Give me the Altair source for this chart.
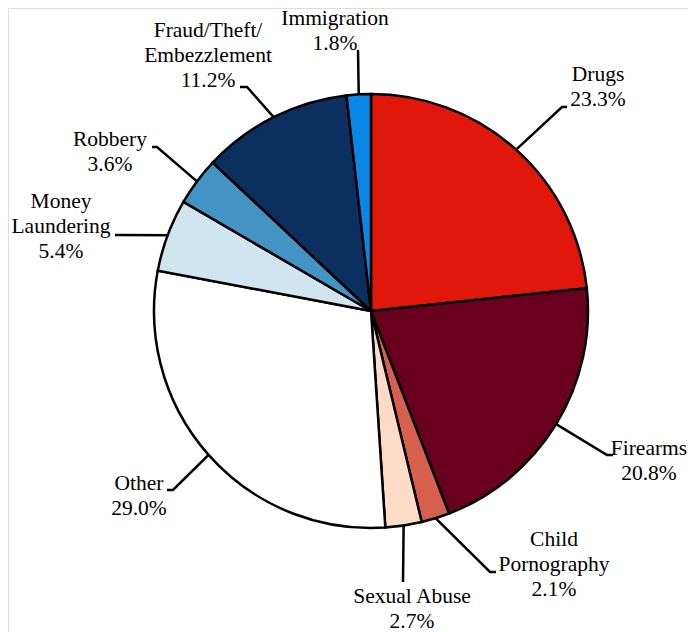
import math
import altair as alt
import pandas as pd

# ---- data ----
categories = ["Drugs", "Firearms", "Child Pornography", "Sexual Abuse", "Other",
              "Money Laundering", "Robbery", "Fraud/Theft/Embezzlement", "Immigration"]
values = [23.3, 20.8, 2.1, 2.7, 29.0, 5.4, 3.6, 11.2, 1.8]
label_lines = [["Drugs", "23.3%"], ["Firearms", "20.8%"], ["Child", "Pornography", "2.1%"],
               ["Sexual Abuse", "2.7%"], ["Other", "29.0%"], ["Money", "Laundering", "5.4%"],
               ["Robbery", "3.6%"], ["Fraud/Theft/", "Embezzlement", "11.2%"], ["Immigration", "1.8%"]]
colors = ["#E2170B", "#6A001F", "#D6604D", "#FDDBC7", "#FFFFFF",
          "#D1E5F0", "#4393C3", "#0B3060", "#0A86E6"]

# ---- layout (chart pixel coords; page minus 8px margin) ----
W, H = 680, 624
CX, CY, R = 363, 303, 217
FONT = "Liberation Serif"
# label centre x, first baseline y
label_pos = [(590, 73), (641, 447), (546, 538), (404, 595), (131, 482),
             (53, 200), (102, 138), (200, 29), (327, 17)]
# leader elbow and end points
elbows = [(554, 99), (599, 447), (482, 564), (395, 574), (165, 482),
          (112, 227), (149, 139), (239, 79), (350, 42)]
ends = [(559, 99), (605, 447), (488, 564), (395, 574), (159, 482),
        (107, 227), (144, 139), (232, 79), (350, 42)]

total = sum(values)
pie_df = pd.DataFrame({"category": categories, "value": values,
                       "idx": list(range(len(values)))})

line_rows = []
cum = 0.0
for i, v in enumerate(values):
    mid = (cum + v / 2) / total * 2 * math.pi
    cum += v
    sx = CX + R * math.sin(mid)
    sy = CY - R * math.cos(mid)
    for k, (px, py) in enumerate([(sx, sy), elbows[i], ends[i]]):
        line_rows.append({"category": categories[i], "k": k, "px": px, "py": py})
line_df = pd.DataFrame(line_rows)

text_df = pd.DataFrame({"category": categories,
                        "label": ["\n".join(l) for l in label_lines],
                        "px": [p[0] for p in label_pos],
                        "py": [p[1] for p in label_pos]})

pie = alt.Chart(pie_df).mark_arc(outerRadius=R, stroke="black", strokeWidth=2.5).encode(
    theta=alt.Theta("value:Q", stack=True),
    order=alt.Order("idx:Q"),
    color=alt.Color("category:N", scale=alt.Scale(domain=categories, range=colors), legend=None),
    x=alt.value(CX), y=alt.value(CY),
)

xs = alt.Scale(domain=[0, W], range=[0, W])
ys = alt.Scale(domain=[0, H], range=[0, H])

lines = alt.Chart(line_df).mark_line(color="black", strokeWidth=2.5, strokeCap="butt").encode(
    x=alt.X("px:Q", scale=xs, axis=None),
    y=alt.Y("py:Q", scale=ys, axis=None),
    detail="category:N",
    order="k:Q",
)

texts = alt.Chart(text_df).mark_text(font=FONT, fontSize=21.5, lineHeight=25,
                                     lineBreak="\n", align="center", baseline="alphabetic",
                                     color="#000000").encode(
    x=alt.X("px:Q", scale=xs, axis=None),
    y=alt.Y("py:Q", scale=ys, axis=None),
    text="label:N",
)

chart = alt.layer(pie, lines, texts).resolve_scale(color="independent").properties(
    width=W, height=H, padding=0, autosize=alt.AutoSizeParams(type="none")
).configure_view(stroke="transparent", strokeWidth=0).configure(background="white", font=FONT)

chart.save("out.html", embed_options={"renderer": "svg", "actions": False})
